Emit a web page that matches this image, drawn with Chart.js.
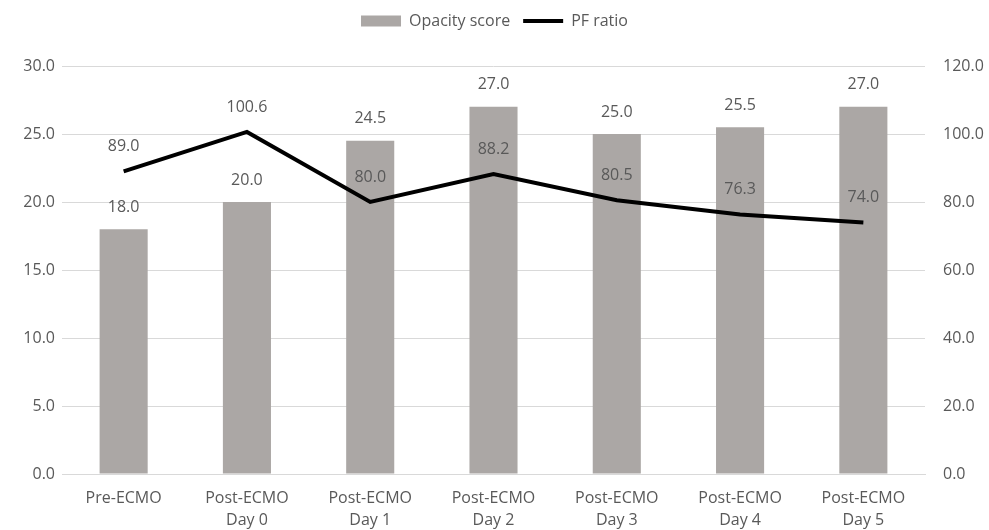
<!DOCTYPE html>
<html>
<head>
<meta charset="utf-8">
<script src="https://cdn.jsdelivr.net/npm/chart.js@4"></script>
<style>
  html, body { margin: 0; padding: 0; background: #fff; }
  #wrap { width: 989px; height: 530px; }
</style>
</head>
<body>
<div id="wrap"><canvas id="combo-chart"></canvas></div>
<script>
// Chart data
var categories = [
    'Pre-ECMO',
    ['Post-ECMO', 'Day 0'],
    ['Post-ECMO', 'Day 1'],
    ['Post-ECMO', 'Day 2'],
    ['Post-ECMO', 'Day 3'],
    ['Post-ECMO', 'Day 4'],
    ['Post-ECMO', 'Day 5']
];
var opacityScore = [18.0, 20.0, 24.5, 27.0, 25.0, 25.5, 27.0];
var pfRatio = [89.0, 100.6, 80.0, 88.2, 80.5, 76.3, 74.0];

var textColor = '#595959';
var gridColor = '#d9d9d9';
var fontSpec = { family: 'Open Sans', size: 16 };

// draws value labels above bars and line points
var valueLabels = {
    id: 'valueLabels',
    afterDatasetsDraw: function (chart) {
        var ctx = chart.ctx;
        ctx.save();
        ctx.font = '16px "Open Sans"';
        ctx.fillStyle = textColor;
        ctx.textAlign = 'center';
        ctx.textBaseline = 'middle';
        chart.data.datasets.forEach(function (ds, i) {
            var meta = chart.getDatasetMeta(i);
            var off = ds.type === 'line' ? 25 : 22;
            meta.data.forEach(function (el, j) {
                ctx.fillText(ds.data[j].toFixed(1), el.x, el.y - off);
            });
        });
        ctx.restore();
    }
};

// leave room under the legend like the original
var legendSpace = {
    id: 'legendSpace',
    beforeInit: function (chart) {
        var fit = chart.legend.fit;
        chart.legend.fit = function () {
            fit.call(this);
            this.height = 66;
        };
    }
};

var ctx = document.getElementById('combo-chart');

var config = {
    type: 'bar',
    data: {
        labels: categories,
        datasets: [{
            type: 'line',
            label: 'PF ratio',
            data: pfRatio,
            yAxisID: 'y1',
            borderColor: '#000000',
            backgroundColor: '#000000',
            borderWidth: 4,
            pointRadius: 0,
            pointStyle: 'line',
            tension: 0,
            order: 1
        }, {
            type: 'bar',
            label: 'Opacity score',
            data: opacityScore,
            yAxisID: 'y',
            backgroundColor: '#aba7a5',
            pointStyle: 'rect',
            categoryPercentage: 1.0,
            barPercentage: 0.39,
            order: 2
        }]
    },
    options: {
        responsive: true,
        maintainAspectRatio: false,
        animation: false,
        layout: { padding: 0 },
        plugins: {
            legend: {
                position: 'top',
                reverse: true,
                labels: {
                    usePointStyle: true,
                    pointStyleWidth: 40,
                    boxHeight: 11,
                    color: textColor,
                    font: fontSpec,
                    padding: 13
                }
            },
            tooltip: { enabled: false }
        },
        scales: {
            x: {
                grid: { display: false },
                border: { color: gridColor },
                ticks: {
                    color: textColor,
                    font: { family: 'Open Sans', size: 16, lineHeight: 1.375 },
                    maxRotation: 0,
                    autoSkip: false,
                    padding: 5
                },
                afterFit: function (scale) { scale.height = 56; }
            },
            y: {
                position: 'left',
                min: 0,
                max: 30,
                ticks: {
                    stepSize: 5,
                    color: textColor,
                    font: fontSpec,
                    padding: 7,
                    callback: function (v) { return v.toFixed(1); }
                },
                grid: { color: gridColor, drawTicks: false },
                border: { display: false },
                afterFit: function (scale) { scale.width = 62; }
            },
            y1: {
                position: 'right',
                min: 0,
                max: 120,
                ticks: {
                    stepSize: 20,
                    color: textColor,
                    font: fontSpec,
                    padding: 18,
                    callback: function (v) { return v.toFixed(1); }
                },
                grid: { display: false, drawTicks: false },
                border: { display: false },
                afterFit: function (scale) { scale.width = 64; }
            }
        }
    },
    plugins: [valueLabels, legendSpace]
};

var comboChart = new Chart(ctx, config);
</script>
</body>
</html>
